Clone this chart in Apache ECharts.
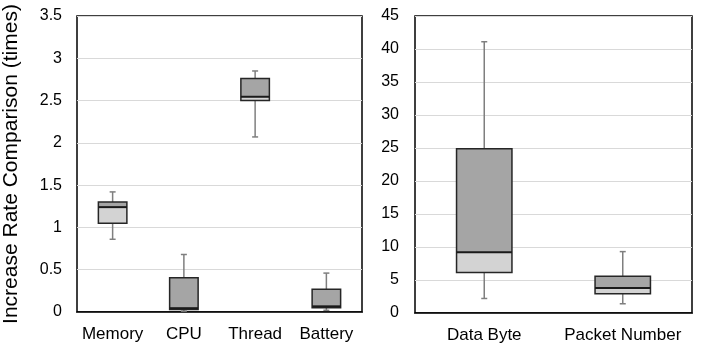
<!DOCTYPE html>
<html>
<head>
<meta charset="utf-8">
<script src="https://cdn.jsdelivr.net/npm/echarts@6/dist/echarts.min.js"></script>
<style>
html,body{margin:0;padding:0;background:#fff;}
#chart{width:710px;height:349px;}
</style>
</head>
<body>
<div id="chart"></div>
<script>
// Left panel
const leftCategories = ['Memory', 'CPU', 'Thread', 'Battery'];
const leftLow    = [0.86, 0.01, 2.07, 0.02];
const leftQ1     = [1.05, 0.03, 2.50, 0.05];
const leftMedian = [1.24, 0.045, 2.545, 0.067];
const leftQ3     = [1.30, 0.405, 2.76, 0.27];
const leftHigh   = [1.42, 0.68, 2.85, 0.46];
const leftTicks  = ['0', '0.5', '1', '1.5', '2', '2.5', '3', '3.5'];

// Right panel
const rightCategories = ['Data Byte', 'Packet Number'];
const rightLow    = [2.2, 1.4];
const rightQ1     = [6.15, 2.9];
const rightMedian = [9.2, 3.8];
const rightQ3     = [24.9, 5.55];
const rightHigh   = [41.1, 9.3];
const rightTicks  = ['0', '5', '10', '15', '20', '25', '30', '35', '40', '45'];

const yTitle = 'Increase Rate Comparison (times)';

function buildData(low, q1, med, q3, high) {
  return low.map((v, i) => [i, v, q1[i], med[i], q3[i], high[i]]);
}

function renderBox(params, api) {
  const x = api.value(0);
  const pLow = api.coord([x, api.value(1)]);
  const pQ1 = api.coord([x, api.value(2)]);
  const pMed = api.coord([x, api.value(3)]);
  const pQ3 = api.coord([x, api.value(4)]);
  const pHigh = api.coord([x, api.value(5)]);
  const band = api.size([1, 0])[0];
  const w = band * 0.4;
  const cx = pMed[0];
  const left = cx - w / 2;
  const cap = 3;
  const whiskerStyle = {stroke: '#7f7f7f', lineWidth: 1.5};
  return {
    type: 'group',
    children: [
      {type: 'line', shape: {x1: cx, y1: pLow[1], x2: cx, y2: pQ1[1]}, style: whiskerStyle},
      {type: 'line', shape: {x1: cx, y1: pQ3[1], x2: cx, y2: pHigh[1]}, style: whiskerStyle},
      {type: 'line', shape: {x1: cx - cap, y1: pLow[1], x2: cx + cap, y2: pLow[1]}, style: whiskerStyle},
      {type: 'line', shape: {x1: cx - cap, y1: pHigh[1], x2: cx + cap, y2: pHigh[1]}, style: whiskerStyle},
      {type: 'rect', shape: {x: left, y: pMed[1], width: w, height: pQ1[1] - pMed[1]},
        style: {fill: '#d3d3d3', stroke: null}},
      {type: 'rect', shape: {x: left, y: pQ3[1], width: w, height: pMed[1] - pQ3[1]},
        style: {fill: '#a5a5a5', stroke: null}},
      {type: 'rect', shape: {x: left, y: pQ3[1], width: w, height: pQ1[1] - pQ3[1]},
        style: {fill: 'none', stroke: '#262626', lineWidth: 1.5}},
      {type: 'line', shape: {x1: left, y1: pMed[1], x2: left + w, y2: pMed[1]},
        style: {stroke: '#1a1a1a', lineWidth: 2}}
    ]
  };
}

const font = 'Liberation Sans, Arial, sans-serif';

const chart = echarts.init(document.getElementById('chart'), null, {renderer: 'canvas'});
chart.setOption({
  backgroundColor: '#fff',
  animation: false,
  grid: [
    {left: 77, right: 348, top: 16, bottom: 37, show: true, borderColor: '#000', borderWidth: 1.5,
      backgroundColor: 'transparent', containLabel: false, outerBoundsMode: 'none'},
    {left: 415, right: 18, top: 16, bottom: 36, show: true, borderColor: '#000', borderWidth: 1.5,
      backgroundColor: 'transparent', containLabel: false, outerBoundsMode: 'none'}
  ],
  xAxis: [
    {type: 'category', gridIndex: 0, data: leftCategories,
      axisLine: {show: true, lineStyle: {color: '#000', width: 1.5}}, axisTick: {show: false},
      axisLabel: {color: '#000', fontSize: 17, fontFamily: font, margin: 14, interval: 0}},
    {type: 'category', gridIndex: 1, data: rightCategories,
      axisLine: {show: true, lineStyle: {color: '#000', width: 1.5}}, axisTick: {show: false},
      axisLabel: {color: '#000', fontSize: 17, fontFamily: font, margin: 14, interval: 0}}
  ],
  yAxis: [
    {type: 'value', gridIndex: 0, min: 0, max: 3.5, interval: 0.5,
      name: yTitle, nameLocation: 'middle', nameGap: 55,
      nameTextStyle: {color: '#000', fontSize: 21, fontFamily: font},
      axisLine: {show: false}, axisTick: {show: false},
      splitLine: {show: true, lineStyle: {color: '#d9d9d9', width: 1}},
      axisLabel: {color: '#000', fontSize: 16, fontFamily: font, margin: 15,
        formatter: (v) => leftTicks[Math.round(v / 0.5)]}},
    {type: 'value', gridIndex: 1, min: 0, max: 45, interval: 5,
      axisLine: {show: false}, axisTick: {show: false},
      splitLine: {show: true, lineStyle: {color: '#d9d9d9', width: 1}},
      axisLabel: {color: '#000', fontSize: 16, fontFamily: font, margin: 16,
        formatter: (v) => rightTicks[Math.round(v / 5)]}}
  ],
  series: [
    {type: 'custom', xAxisIndex: 0, yAxisIndex: 0, renderItem: renderBox,
      encode: {x: 0, y: [1, 2, 3, 4, 5]},
      data: buildData(leftLow, leftQ1, leftMedian, leftQ3, leftHigh)},
    {type: 'custom', xAxisIndex: 1, yAxisIndex: 1, renderItem: renderBox,
      encode: {x: 0, y: [1, 2, 3, 4, 5]},
      data: buildData(rightLow, rightQ1, rightMedian, rightQ3, rightHigh)}
  ]
});
</script>
</body>
</html>
